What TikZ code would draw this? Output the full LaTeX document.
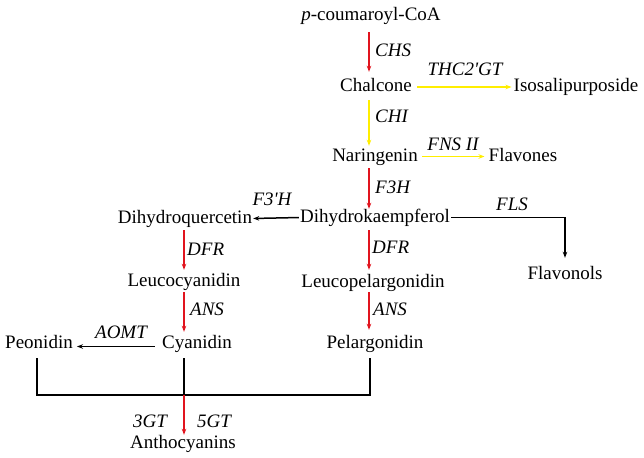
\documentclass[tikz,border=0pt]{standalone}
\usepackage{fontspec}
\setmainfont{Liberation Serif}
\usetikzlibrary{arrows.meta,calc}
\definecolor{pred}{RGB}{225,20,30}
\definecolor{pyel}{RGB}{255,238,0}
\begin{document}
\begin{tikzpicture}[x=1pt,y=-1pt,
  cmp/.style={anchor=base,inner sep=0pt,text height=13pt,text depth=4pt,font=\fontsize{19}{22}\selectfont},
  enz/.style={anchor=base,inner sep=0pt,font=\fontsize{19}{22}\selectfont\itshape},
  enzl/.style={enz,anchor=base west},
  arr/.style={line width=1.5pt,-{Stealth[length=6pt,width=4.5pt]},shorten <=3pt,shorten >=3pt},
  redarr/.style={arr,draw=pred},
  yelarr/.style={arr,draw=pyel},
  blkarr/.style={arr,draw=black},
  blk/.style={line width=1.5pt,draw=black}]
\useasboundingbox (0,0) rectangle (644,457);
\coordinate (mx) at (369,0);
\coordinate (lx) at (184,0);
\coordinate (j) at (184,395);
% compounds
\node[cmp] (cou) at (371,21) {\textit{p}-coumaroyl-CoA};
\node[cmp] (chal) at (376,92) {Chalcone};
\node[cmp] (iso) at (576,92) {Isosalipurposide};
\node[cmp] (nar) at (375,161) {Naringenin};
\node[cmp] (flav) at (523,161) {Flavones};
\node[cmp] (dhk) at (375,222) {Dihydrokaempferol};
\node[cmp] (dhq) at (185,223) {Dihydroquercetin};
\node[cmp] (flo) at (565,279) {Flavonols};
\node[cmp] (lcy) at (184,286) {Leucocyanidin};
\node[cmp] (lpg) at (373,287) {Leucopelargonidin};
\node[cmp] (cya) at (197,348) {Cyanidin};
\node[cmp] (peo) at (39,348) {Peonidin};
\node[cmp] (pel) at (375,348) {Pelargonidin};
\node[cmp] (ant) at (183,448) {Anthocyanins};
% enzymes
\node[enzl] (chs) at (375,57) {CHS};
\node[enz] (thc) at (465,76) {THC2\textquotesingle GT};
\node[enzl] (chi) at (375,123) {CHI};
\node[enz] (fns) at (453,150) {FNS II};
\node[enzl] (f3h) at (375,193) {F3H};
\node[enz] (fls) at (512,210) {FLS};
\node[enz] (f3ph) at (272,205) {F3\textquotesingle H};
\node[enzl] (dfrl) at (187,255) {DFR};
\node[enzl] (dfrr) at (372,253) {DFR};
\node[enzl] (ansl) at (190,315) {ANS};
\node[enzl] (ansr) at (373,315) {ANS};
\node[enz] (aomt) at (121,338) {AOMT};
\node[enz] (gt3) at (150,427) {3GT};
\node[enz] (gt5) at (214,427) {5GT};
% arrows
\draw[redarr,shorten <=7pt,shorten >=7pt] (cou.south -| mx) -- (chal.north -| mx);
\draw[yelarr,shorten <=5pt,shorten >=2pt] ([yshift=0.5pt]chal.east) -- ([yshift=0.5pt]iso.west);
\draw[yelarr,shorten <=4pt,shorten >=2pt] (chal.south -| mx) -- (nar.north -| mx);
\draw[yelarr,shorten <=4pt,shorten >=4pt] (nar.east) -- (flav.west);
\draw[redarr,shorten >=0pt] (nar.south -| mx) -- (dhk.north -| mx);
\draw[blkarr,shorten <=1pt,shorten >=1pt] (dhk.west) -- (dhq.east);
\draw[blkarr,shorten <=1pt,shorten >=8pt] (dhk.east) -| (flo.north);
\draw[redarr,shorten <=4pt,shorten >=4pt] (dhk.south -| mx) -- (lpg.north -| mx);
\draw[redarr,shorten <=1pt,shorten >=5pt] (lpg.south -| mx) -- (pel.north -| mx);
\draw[redarr] (dhq.south -| lx) -- (lcy.north -| lx);
\draw[redarr,shorten <=2pt] (lcy.south -| lx) -- (cya.north -| lx);
\draw[blkarr,shorten <=7pt,shorten >=4pt] ([yshift=-3pt]cya.west) -- ([yshift=-3pt]peo.east);
% bracket
\draw[blk] ([xshift=-2pt,yshift=-6pt]peo.south) |- (j) -| ([xshift=-5pt,yshift=-6pt]pel.south);
\draw[blk] ([yshift=-6pt]cya.south -| j) -- (j);
\draw[redarr,shorten <=0pt,shorten >=0pt] (j) -- (ant.north -| j);
\end{tikzpicture}
\end{document}
